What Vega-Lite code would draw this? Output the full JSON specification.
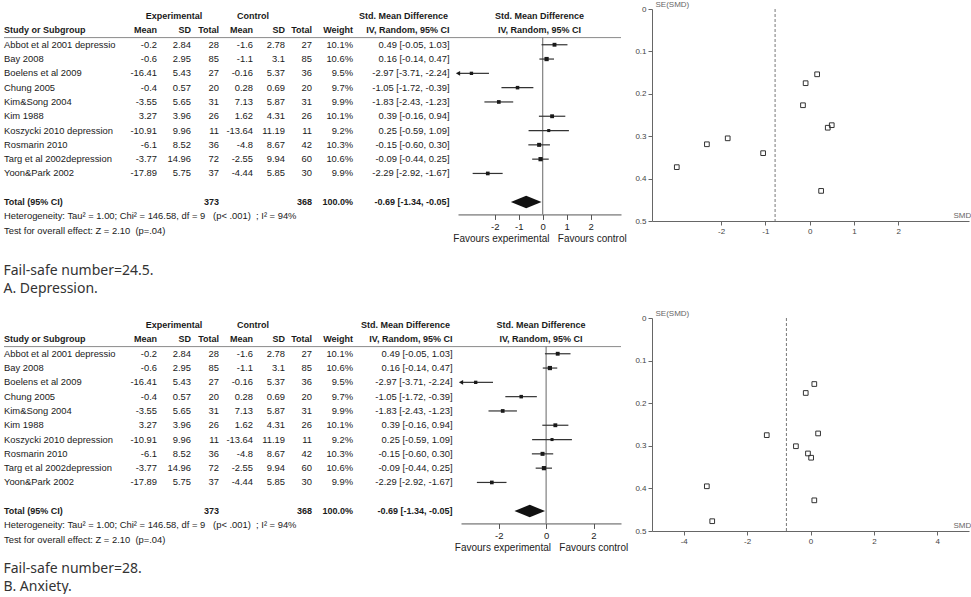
{
"$schema": "https://vega.github.io/schema/vega-lite/v6.json",
"background": "white",
"padding": {"left": 3, "top": 0, "right": 0, "bottom": 0},
"config": {"view": {"stroke": null}, "font": "Liberation Sans", "locale": {"number": {"decimal": ".", "thousands": ",", "grouping": [3], "currency": ["$", ""], "minus": "-"}}},
"datasets": {
"tab": [
{"study":"Abbot et al 2001 depressio","kind":"s","me":-0.2,"sde":2.84,"ne":28,"mc":-1.6,"sdc":2.78,"nc":27,"w":10.1,"smd":0.49,"lo":-0.05,"hi":1.03},
{"study":"Bay 2008","kind":"s","me":-0.6,"sde":2.95,"ne":85,"mc":-1.1,"sdc":3.1,"nc":85,"w":10.6,"smd":0.16,"lo":-0.14,"hi":0.47},
{"study":"Boelens et al 2009","kind":"s","me":-16.41,"sde":5.43,"ne":27,"mc":-0.16,"sdc":5.37,"nc":36,"w":9.5,"smd":-2.97,"lo":-3.71,"hi":-2.24},
{"study":"Chung 2005","kind":"s","me":-0.4,"sde":0.57,"ne":20,"mc":0.28,"sdc":0.69,"nc":20,"w":9.7,"smd":-1.05,"lo":-1.72,"hi":-0.39},
{"study":"Kim&Song 2004","kind":"s","me":-3.55,"sde":5.65,"ne":31,"mc":7.13,"sdc":5.87,"nc":31,"w":9.9,"smd":-1.83,"lo":-2.43,"hi":-1.23},
{"study":"Kim 1988","kind":"s","me":3.27,"sde":3.96,"ne":26,"mc":1.62,"sdc":4.31,"nc":26,"w":10.1,"smd":0.39,"lo":-0.16,"hi":0.94},
{"study":"Koszycki 2010 depression","kind":"s","me":-10.91,"sde":9.96,"ne":11,"mc":-13.64,"sdc":11.19,"nc":11,"w":9.2,"smd":0.25,"lo":-0.59,"hi":1.09},
{"study":"Rosmarin 2010","kind":"s","me":-6.1,"sde":8.52,"ne":36,"mc":-4.8,"sdc":8.67,"nc":42,"w":10.3,"smd":-0.15,"lo":-0.6,"hi":0.3},
{"study":"Targ et al 2002depression","kind":"s","me":-3.77,"sde":14.96,"ne":72,"mc":-2.55,"sdc":9.94,"nc":60,"w":10.6,"smd":-0.09,"lo":-0.44,"hi":0.25},
{"study":"Yoon&Park 2002","kind":"s","me":-17.89,"sde":5.75,"ne":37,"mc":-4.44,"sdc":5.85,"nc":30,"w":9.9,"smd":-2.29,"lo":-2.92,"hi":-1.67},
{"study":"Total (95% CI)","kind":"t","ne":373,"nc":368,"w":100.0,"smd":-0.69,"lo":-1.34,"hi":-0.05}
],
"funA": [
{"smd":0.17,"se":0.154},{"smd":-0.09,"se":0.175},{"smd":-0.15,"se":0.227},{"smd":0.41,"se":0.28},{"smd":0.5,"se":0.274},
{"smd":-1.85,"se":0.305},{"smd":-2.32,"se":0.319},{"smd":-1.05,"se":0.34},{"smd":-3.0,"se":0.373},{"smd":0.26,"se":0.429}
],
"funB": [
{"smd":0.12,"se":0.155},{"smd":-0.15,"se":0.176},{"smd":0.24,"se":0.271},{"smd":-1.38,"se":0.275},{"smd":-0.46,"se":0.301},
{"smd":-0.08,"se":0.318},{"smd":0.02,"se":0.328},{"smd":-3.27,"se":0.395},{"smd":0.12,"se":0.428},{"smd":-3.1,"se":0.477}
]
},
"spacing": 13,
"vconcat": [
{
"bounds": "flush", "spacing": 0,
"title": {"text": ["Fail-safe number=24.5.", "A. Depression."], "orient": "bottom", "anchor": "start", "baseline": "top", "offset": 20, "fontSize": 14, "fontWeight": "normal", "font": "Noto Sans", "color": "#333", "lineHeight": 18},
"hconcat": [
{"width": 123, "height": {"step": 14.3}, "data": {"name": "tab"},
 "encoding": {"y": {"field": "study", "type": "nominal", "scale": {"type": "band", "domain": ["grp","hdr","Abbot et al 2001 depressio","Bay 2008","Boelens et al 2009","Chung 2005","Kim&Song 2004","Kim 1988","Koszycki 2010 depression","Rosmarin 2010","Targ et al 2002depression","Yoon&Park 2002","gap","Total (95% CI)","het","test"], "paddingInner": 0, "paddingOuter": 0, "round": false}, "axis": null}},
 "layer": [
  {"transform": [{"filter": "datum.kind == 's'"}], "mark": {"type": "text", "align": "left", "fontSize": 9.4, "color": "#1a1a1a"}, "encoding": {"x": {"value": 0}, "text": {"field": "study", "type": "nominal"}}},
  {"transform": [{"filter": "datum.kind == 't'"}], "mark": {"type": "text", "align": "left", "fontSize": 9, "fontWeight": "bold", "color": "#1a1a1a"}, "encoding": {"x": {"value": 0}, "text": {"field": "study", "type": "nominal"}}},
  {"data": {"values": [{}]}, "mark": {"type": "text", "align": "left", "fontSize": 9, "fontWeight": "bold", "color": "#1a1a1a"}, "encoding": {"x": {"value": 0}, "y": {"datum": "hdr"}, "text": {"value": "Study or Subgroup"}}},
  {"data": {"values": [{}]}, "mark": {"type": "text", "align": "left", "fontSize": 9.4, "color": "#1a1a1a"}, "encoding": {"x": {"value": 0}, "y": {"datum": "het"}, "text": {"value": "Heterogeneity: Tau² = 1.00; Chi² = 146.58, df = 9\u00a0\u00a0 (p< .001)\u00a0 ; I² = 94%"}}},
  {"data": {"values": [{}]}, "mark": {"type": "text", "align": "left", "fontSize": 9.4, "color": "#1a1a1a"}, "encoding": {"x": {"value": 0}, "y": {"datum": "test"}, "text": {"value": "Test for overall effect: Z = 2.10\u00a0 (p=.04)"}}},
  {"data": {"values": [{}]}, "mark": {"type": "rule", "color": "#8a8a8a"}, "encoding": {"y": {"datum": "Abbot et al 2001 depressio", "bandPosition": 0}}}
 ]},
{"width": 30, "height": {"step": 14.3}, "data": {"name": "tab"},
 "encoding": {"y": {"field": "study", "type": "nominal", "scale": {"type": "band", "domain": ["grp","hdr","Abbot et al 2001 depressio","Bay 2008","Boelens et al 2009","Chung 2005","Kim&Song 2004","Kim 1988","Koszycki 2010 depression","Rosmarin 2010","Targ et al 2002depression","Yoon&Park 2002","gap","Total (95% CI)","het","test"], "paddingInner": 0, "paddingOuter": 0, "round": false}, "axis": null}},
 "layer": [
  {"transform": [{"filter": "datum.kind == 's'"}], "mark": {"type": "text", "align": "right", "fontSize": 9.4, "color": "#1a1a1a"}, "encoding": {"x": {"value": "width"}, "text": {"field": "me", "type": "nominal"}}},
  {"data": {"values": [{}]}, "mark": {"type": "text", "align": "right", "fontSize": 9, "fontWeight": "bold", "color": "#1a1a1a"}, "encoding": {"x": {"value": "width"}, "y": {"datum": "hdr"}, "text": {"value": "Mean"}}},
  {"data": {"values": [{}]}, "mark": {"type": "rule", "color": "#8a8a8a"}, "encoding": {"y": {"datum": "Abbot et al 2001 depressio", "bandPosition": 0}}}
 ]},
{"width": 34, "height": {"step": 14.3}, "data": {"name": "tab"},
 "encoding": {"y": {"field": "study", "type": "nominal", "scale": {"type": "band", "domain": ["grp","hdr","Abbot et al 2001 depressio","Bay 2008","Boelens et al 2009","Chung 2005","Kim&Song 2004","Kim 1988","Koszycki 2010 depression","Rosmarin 2010","Targ et al 2002depression","Yoon&Park 2002","gap","Total (95% CI)","het","test"], "paddingInner": 0, "paddingOuter": 0, "round": false}, "axis": null}},
 "layer": [
  {"transform": [{"filter": "datum.kind == 's'"}], "mark": {"type": "text", "align": "right", "fontSize": 9.4, "color": "#1a1a1a"}, "encoding": {"x": {"value": "width"}, "text": {"field": "sde", "type": "nominal"}}},
  {"data": {"values": [{}]}, "mark": {"type": "text", "align": "right", "fontSize": 9, "fontWeight": "bold", "color": "#1a1a1a"}, "encoding": {"x": {"value": "width"}, "y": {"datum": "hdr"}, "text": {"value": "SD"}}},
  {"data": {"values": [{}]}, "mark": {"type": "text", "align": "center", "fontSize": 9, "fontWeight": "bold", "color": "#1a1a1a"}, "encoding": {"y": {"datum": "grp"}, "text": {"value": "Experimental"}}},
  {"data": {"values": [{}]}, "mark": {"type": "rule", "color": "#8a8a8a"}, "encoding": {"y": {"datum": "Abbot et al 2001 depressio", "bandPosition": 0}}}
 ]},
{"width": 28, "height": {"step": 14.3}, "data": {"name": "tab"},
 "encoding": {"y": {"field": "study", "type": "nominal", "scale": {"type": "band", "domain": ["grp","hdr","Abbot et al 2001 depressio","Bay 2008","Boelens et al 2009","Chung 2005","Kim&Song 2004","Kim 1988","Koszycki 2010 depression","Rosmarin 2010","Targ et al 2002depression","Yoon&Park 2002","gap","Total (95% CI)","het","test"], "paddingInner": 0, "paddingOuter": 0, "round": false}, "axis": null}},
 "layer": [
  {"transform": [{"filter": "datum.kind == 's'"}], "mark": {"type": "text", "align": "right", "fontSize": 9.4, "color": "#1a1a1a"}, "encoding": {"x": {"value": "width"}, "text": {"field": "ne", "type": "nominal"}}},
  {"transform": [{"filter": "datum.kind == 't'"}], "mark": {"type": "text", "align": "right", "fontSize": 9, "fontWeight": "bold", "color": "#1a1a1a"}, "encoding": {"x": {"value": "width"}, "text": {"field": "ne", "type": "nominal"}}},
  {"data": {"values": [{}]}, "mark": {"type": "text", "align": "right", "fontSize": 9, "fontWeight": "bold", "color": "#1a1a1a"}, "encoding": {"x": {"value": "width"}, "y": {"datum": "hdr"}, "text": {"value": "Total"}}},
  {"data": {"values": [{}]}, "mark": {"type": "rule", "color": "#8a8a8a"}, "encoding": {"y": {"datum": "Abbot et al 2001 depressio", "bandPosition": 0}}}
 ]},
{"width": 34, "height": {"step": 14.3}, "data": {"name": "tab"},
 "encoding": {"y": {"field": "study", "type": "nominal", "scale": {"type": "band", "domain": ["grp","hdr","Abbot et al 2001 depressio","Bay 2008","Boelens et al 2009","Chung 2005","Kim&Song 2004","Kim 1988","Koszycki 2010 depression","Rosmarin 2010","Targ et al 2002depression","Yoon&Park 2002","gap","Total (95% CI)","het","test"], "paddingInner": 0, "paddingOuter": 0, "round": false}, "axis": null}},
 "layer": [
  {"transform": [{"filter": "datum.kind == 's'"}], "mark": {"type": "text", "align": "right", "fontSize": 9.4, "color": "#1a1a1a"}, "encoding": {"x": {"value": "width"}, "text": {"field": "mc", "type": "nominal"}}},
  {"data": {"values": [{}]}, "mark": {"type": "text", "align": "right", "fontSize": 9, "fontWeight": "bold", "color": "#1a1a1a"}, "encoding": {"x": {"value": "width"}, "y": {"datum": "hdr"}, "text": {"value": "Mean"}}},
  {"data": {"values": [{}]}, "mark": {"type": "text", "align": "center", "fontSize": 9, "fontWeight": "bold", "color": "#1a1a1a"}, "encoding": {"x": {"value": "width"}, "y": {"datum": "grp"}, "text": {"value": "Control"}}},
  {"data": {"values": [{}]}, "mark": {"type": "rule", "color": "#8a8a8a"}, "encoding": {"y": {"datum": "Abbot et al 2001 depressio", "bandPosition": 0}}}
 ]},
{"width": 32, "height": {"step": 14.3}, "data": {"name": "tab"},
 "encoding": {"y": {"field": "study", "type": "nominal", "scale": {"type": "band", "domain": ["grp","hdr","Abbot et al 2001 depressio","Bay 2008","Boelens et al 2009","Chung 2005","Kim&Song 2004","Kim 1988","Koszycki 2010 depression","Rosmarin 2010","Targ et al 2002depression","Yoon&Park 2002","gap","Total (95% CI)","het","test"], "paddingInner": 0, "paddingOuter": 0, "round": false}, "axis": null}},
 "layer": [
  {"transform": [{"filter": "datum.kind == 's'"}], "mark": {"type": "text", "align": "right", "fontSize": 9.4, "color": "#1a1a1a"}, "encoding": {"x": {"value": "width"}, "text": {"field": "sdc", "type": "nominal"}}},
  {"data": {"values": [{}]}, "mark": {"type": "text", "align": "right", "fontSize": 9, "fontWeight": "bold", "color": "#1a1a1a"}, "encoding": {"x": {"value": "width"}, "y": {"datum": "hdr"}, "text": {"value": "SD"}}},
  {"data": {"values": [{}]}, "mark": {"type": "rule", "color": "#8a8a8a"}, "encoding": {"y": {"datum": "Abbot et al 2001 depressio", "bandPosition": 0}}}
 ]},
{"width": 27, "height": {"step": 14.3}, "data": {"name": "tab"},
 "encoding": {"y": {"field": "study", "type": "nominal", "scale": {"type": "band", "domain": ["grp","hdr","Abbot et al 2001 depressio","Bay 2008","Boelens et al 2009","Chung 2005","Kim&Song 2004","Kim 1988","Koszycki 2010 depression","Rosmarin 2010","Targ et al 2002depression","Yoon&Park 2002","gap","Total (95% CI)","het","test"], "paddingInner": 0, "paddingOuter": 0, "round": false}, "axis": null}},
 "layer": [
  {"transform": [{"filter": "datum.kind == 's'"}], "mark": {"type": "text", "align": "right", "fontSize": 9.4, "color": "#1a1a1a"}, "encoding": {"x": {"value": "width"}, "text": {"field": "nc", "type": "nominal"}}},
  {"transform": [{"filter": "datum.kind == 't'"}], "mark": {"type": "text", "align": "right", "fontSize": 9, "fontWeight": "bold", "color": "#1a1a1a"}, "encoding": {"x": {"value": "width"}, "text": {"field": "nc", "type": "nominal"}}},
  {"data": {"values": [{}]}, "mark": {"type": "text", "align": "right", "fontSize": 9, "fontWeight": "bold", "color": "#1a1a1a"}, "encoding": {"x": {"value": "width"}, "y": {"datum": "hdr"}, "text": {"value": "Total"}}},
  {"data": {"values": [{}]}, "mark": {"type": "rule", "color": "#8a8a8a"}, "encoding": {"y": {"datum": "Abbot et al 2001 depressio", "bandPosition": 0}}}
 ]},
{"width": 41, "height": {"step": 14.3}, "data": {"name": "tab"},
 "transform": [{"calculate": "format(datum.w, '.1f') + '%'", "as": "wl"}],
 "encoding": {"y": {"field": "study", "type": "nominal", "scale": {"type": "band", "domain": ["grp","hdr","Abbot et al 2001 depressio","Bay 2008","Boelens et al 2009","Chung 2005","Kim&Song 2004","Kim 1988","Koszycki 2010 depression","Rosmarin 2010","Targ et al 2002depression","Yoon&Park 2002","gap","Total (95% CI)","het","test"], "paddingInner": 0, "paddingOuter": 0, "round": false}, "axis": null}},
 "layer": [
  {"transform": [{"filter": "datum.kind == 's'"}], "mark": {"type": "text", "align": "right", "fontSize": 9.4, "color": "#1a1a1a"}, "encoding": {"x": {"value": "width"}, "text": {"field": "wl", "type": "nominal"}}},
  {"transform": [{"filter": "datum.kind == 't'"}], "mark": {"type": "text", "align": "right", "fontSize": 9, "fontWeight": "bold", "color": "#1a1a1a"}, "encoding": {"x": {"value": "width"}, "text": {"field": "wl", "type": "nominal"}}},
  {"data": {"values": [{}]}, "mark": {"type": "text", "align": "right", "fontSize": 9, "fontWeight": "bold", "color": "#1a1a1a"}, "encoding": {"x": {"value": "width"}, "y": {"datum": "hdr"}, "text": {"value": "Weight"}}},
  {"data": {"values": [{}]}, "mark": {"type": "rule", "color": "#8a8a8a"}, "encoding": {"y": {"datum": "Abbot et al 2001 depressio", "bandPosition": 0}}}
 ]},
{"width": 105, "height": {"step": 14.3}, "data": {"name": "tab"},
 "transform": [{"calculate": "format(datum.smd, '.2f') + ' [' + format(datum.lo, '.2f') + ', ' + format(datum.hi, '.2f') + ']'", "as": "ci"}],
 "encoding": {"y": {"field": "study", "type": "nominal", "scale": {"type": "band", "domain": ["grp","hdr","Abbot et al 2001 depressio","Bay 2008","Boelens et al 2009","Chung 2005","Kim&Song 2004","Kim 1988","Koszycki 2010 depression","Rosmarin 2010","Targ et al 2002depression","Yoon&Park 2002","gap","Total (95% CI)","het","test"], "paddingInner": 0, "paddingOuter": 0, "round": false}, "axis": null}},
 "layer": [
  {"transform": [{"filter": "datum.kind == 's'"}], "mark": {"type": "text", "align": "right", "dx": -8.5, "fontSize": 9.4, "color": "#1a1a1a"}, "encoding": {"x": {"value": "width"}, "text": {"field": "ci", "type": "nominal"}}},
  {"transform": [{"filter": "datum.kind == 't'"}], "mark": {"type": "text", "align": "right", "dx": -8.5, "fontSize": 9, "fontWeight": "bold", "color": "#1a1a1a"}, "encoding": {"x": {"value": "width"}, "text": {"field": "ci", "type": "nominal"}}},
  {"data": {"values": [{}]}, "mark": {"type": "text", "align": "right", "dx": -10, "fontSize": 9, "fontWeight": "bold", "color": "#1a1a1a"}, "encoding": {"x": {"value": "width"}, "y": {"datum": "grp"}, "text": {"value": "Std. Mean Difference"}}},
  {"data": {"values": [{}]}, "mark": {"type": "text", "align": "right", "dx": -8.5, "fontSize": 9, "fontWeight": "bold", "color": "#1a1a1a"}, "encoding": {"x": {"value": "width"}, "y": {"datum": "hdr"}, "text": {"value": "IV, Random, 95% CI"}}},
  {"data": {"values": [{}]}, "mark": {"type": "rule", "color": "#8a8a8a"}, "encoding": {"y": {"datum": "Abbot et al 2001 depressio", "bandPosition": 0}}}
 ]},
{"width": 163, "height": {"step": 14.3}, "data": {"name": "tab"},
 "encoding": {"y": {"field": "study", "type": "nominal", "scale": {"type": "band", "domain": ["grp","hdr","Abbot et al 2001 depressio","Bay 2008","Boelens et al 2009","Chung 2005","Kim&Song 2004","Kim 1988","Koszycki 2010 depression","Rosmarin 2010","Targ et al 2002depression","Yoon&Park 2002","gap","Total (95% CI)"], "paddingInner": 0, "paddingOuter": 0.183, "align": 0, "round": false}, "axis": null}},
 "layer": [
  {"data": {"values": [{}]}, "mark": {"type": "text", "align": "center", "fontSize": 9, "fontWeight": "bold", "color": "#1a1a1a"}, "encoding": {"y": {"datum": "grp"}, "text": {"value": "Std. Mean Difference"}}},
  {"data": {"values": [{}]}, "mark": {"type": "text", "align": "center", "fontSize": 9, "fontWeight": "bold", "color": "#1a1a1a"}, "encoding": {"y": {"datum": "hdr"}, "text": {"value": "IV, Random, 95% CI"}}},
  {"data": {"values": [{}]}, "mark": {"type": "rule", "color": "#8a8a8a"}, "encoding": {"y": {"datum": "Abbot et al 2001 depressio", "bandPosition": 0}}},
  {"data": {"values": [{}]}, "mark": {"type": "rule", "color": "#666"}, "encoding": {"x": {"datum": 0, "type": "quantitative", "scale": {"domain": [-3.53, 3.26], "nice": false, "zero": false, "clamp": true}, "axis": {"values": [-2, -1, 0, 1, 2], "grid": false, "labelFlush": false, "tickSize": 5, "domainColor": "#555", "tickColor": "#555", "labelColor": "#222", "labelFontSize": 9.5, "labelPadding": 2, "title": "Favours experimental\u00a0\u00a0 Favours control", "titleFontSize": 10, "titleFontWeight": "normal", "titleColor": "#222", "titlePadding": 3}}, "y": {"datum": "Abbot et al 2001 depressio", "bandPosition": 0}, "y2": {"value": "height"}}},
  {"transform": [{"filter": "datum.kind == 's'"}], "mark": {"type": "rule", "color": "#333", "strokeWidth": 1.2}, "encoding": {"x": {"field": "lo", "type": "quantitative", "scale": {"domain": [-3.53, 3.26], "nice": false, "zero": false, "clamp": true}}, "x2": {"field": "hi"}}},
  {"transform": [{"filter": "datum.kind == 's'"}], "mark": {"type": "point", "shape": "square", "filled": true, "color": "#1a1a1a", "opacity": 1}, "encoding": {"x": {"field": "smd", "type": "quantitative", "scale": {"domain": [-3.53, 3.26], "nice": false, "zero": false, "clamp": true}}, "size": {"field": "w", "type": "quantitative", "scale": {"domain": [9, 10.6], "range": [8, 18]}, "legend": null}}},
  {"transform": [{"filter": "datum.kind == 's' && datum.lo < -3.53"}], "mark": {"type": "point", "shape": "triangle-left", "filled": true, "size": 24, "color": "#1a1a1a", "opacity": 1}, "encoding": {"x": {"field": "lo", "type": "quantitative", "scale": {"domain": [-3.53, 3.26], "nice": false, "zero": false, "clamp": true}}}},
  {"transform": [{"filter": "datum.kind == 't'"}], "mark": {"type": "point", "shape": "M-1,0L0,-0.41L1,0L0,0.41Z", "filled": true, "size": 940, "color": "#111", "opacity": 1}, "encoding": {"x": {"field": "smd", "type": "quantitative", "scale": {"domain": [-3.53, 3.26], "nice": false, "zero": false, "clamp": true}}}}
 ]},
{"width": 31, "height": 212, "data": {"values": []}, "mark": "point"},
{"width": 317, "height": 212, "data": {"name": "funA"},
 "layer": [
  {"data": {"values": [{}]}, "mark": {"type": "rule", "strokeDash": [3, 2], "color": "#777"}, "encoding": {"x": {"datum": -0.78, "type": "quantitative", "scale": {"domain": [-3.56, 3.6], "nice": false, "zero": false}}}},
  {"mark": {"type": "point", "shape": "square", "filled": false, "stroke": "#333", "strokeWidth": 1, "size": 22, "opacity": 1},
   "encoding": {
    "x": {"field": "smd", "type": "quantitative", "scale": {"domain": [-3.56, 3.6], "nice": false, "zero": false}, "axis": {"values": [-2, -1, 0, 1, 2], "grid": false, "labelFlush": false, "tickSize": 4, "domainColor": "#666", "tickColor": "#666", "labelColor": "#444", "labelFontSize": 8, "labelPadding": 2, "title": "SMD", "titleX": 301, "titleY": -2, "titleAlign": "left", "titleBaseline": "bottom", "titleFontSize": 8, "titleFontWeight": "normal", "titleColor": "#666"}},
    "y": {"field": "se", "type": "quantitative", "scale": {"domain": [0, 0.5], "reverse": true, "nice": false, "zero": false}, "axis": {"values": [0, 0.1, 0.2, 0.3, 0.4, 0.5], "format": "~g", "grid": false, "labelFlush": false, "tickSize": 4, "domainColor": "#666", "tickColor": "#666", "labelColor": "#444", "labelFontSize": 8, "labelPadding": 2, "title": "SE(SMD)", "titleAngle": 0, "titleX": 3, "titleY": -5, "titleAlign": "left", "titleBaseline": "middle", "titleFontSize": 8, "titleFontWeight": "normal", "titleColor": "#666"}}
   }}
 ]}
]
},
{
"bounds": "flush", "spacing": 0,
"title": {"text": ["Fail-safe number=28.", "B. Anxiety."], "orient": "bottom", "anchor": "start", "baseline": "top", "offset": 9, "fontSize": 14, "fontWeight": "normal", "font": "Noto Sans", "color": "#333", "lineHeight": 18},
"hconcat": [
{"width": 123, "height": {"step": 14.3}, "data": {"name": "tab"},
 "encoding": {"y": {"field": "study", "type": "nominal", "scale": {"type": "band", "domain": ["grp","hdr","Abbot et al 2001 depressio","Bay 2008","Boelens et al 2009","Chung 2005","Kim&Song 2004","Kim 1988","Koszycki 2010 depression","Rosmarin 2010","Targ et al 2002depression","Yoon&Park 2002","gap","Total (95% CI)","het","test"], "paddingInner": 0, "paddingOuter": 0, "round": false}, "axis": null}},
 "layer": [
  {"transform": [{"filter": "datum.kind == 's'"}], "mark": {"type": "text", "align": "left", "fontSize": 9.4, "color": "#1a1a1a"}, "encoding": {"x": {"value": 0}, "text": {"field": "study", "type": "nominal"}}},
  {"transform": [{"filter": "datum.kind == 't'"}], "mark": {"type": "text", "align": "left", "fontSize": 9, "fontWeight": "bold", "color": "#1a1a1a"}, "encoding": {"x": {"value": 0}, "text": {"field": "study", "type": "nominal"}}},
  {"data": {"values": [{}]}, "mark": {"type": "text", "align": "left", "fontSize": 9, "fontWeight": "bold", "color": "#1a1a1a"}, "encoding": {"x": {"value": 0}, "y": {"datum": "hdr"}, "text": {"value": "Study or Subgroup"}}},
  {"data": {"values": [{}]}, "mark": {"type": "text", "align": "left", "fontSize": 9.4, "color": "#1a1a1a"}, "encoding": {"x": {"value": 0}, "y": {"datum": "het"}, "text": {"value": "Heterogeneity: Tau² = 1.00; Chi² = 146.58, df = 9\u00a0\u00a0 (p< .001)\u00a0 ; I² = 94%"}}},
  {"data": {"values": [{}]}, "mark": {"type": "text", "align": "left", "fontSize": 9.4, "color": "#1a1a1a"}, "encoding": {"x": {"value": 0}, "y": {"datum": "test"}, "text": {"value": "Test for overall effect: Z = 2.10\u00a0 (p=.04)"}}},
  {"data": {"values": [{}]}, "mark": {"type": "rule", "color": "#8a8a8a"}, "encoding": {"y": {"datum": "Abbot et al 2001 depressio", "bandPosition": 0}}}
 ]},
{"width": 30, "height": {"step": 14.3}, "data": {"name": "tab"},
 "encoding": {"y": {"field": "study", "type": "nominal", "scale": {"type": "band", "domain": ["grp","hdr","Abbot et al 2001 depressio","Bay 2008","Boelens et al 2009","Chung 2005","Kim&Song 2004","Kim 1988","Koszycki 2010 depression","Rosmarin 2010","Targ et al 2002depression","Yoon&Park 2002","gap","Total (95% CI)","het","test"], "paddingInner": 0, "paddingOuter": 0, "round": false}, "axis": null}},
 "layer": [
  {"transform": [{"filter": "datum.kind == 's'"}], "mark": {"type": "text", "align": "right", "fontSize": 9.4, "color": "#1a1a1a"}, "encoding": {"x": {"value": "width"}, "text": {"field": "me", "type": "nominal"}}},
  {"data": {"values": [{}]}, "mark": {"type": "text", "align": "right", "fontSize": 9, "fontWeight": "bold", "color": "#1a1a1a"}, "encoding": {"x": {"value": "width"}, "y": {"datum": "hdr"}, "text": {"value": "Mean"}}},
  {"data": {"values": [{}]}, "mark": {"type": "rule", "color": "#8a8a8a"}, "encoding": {"y": {"datum": "Abbot et al 2001 depressio", "bandPosition": 0}}}
 ]},
{"width": 34, "height": {"step": 14.3}, "data": {"name": "tab"},
 "encoding": {"y": {"field": "study", "type": "nominal", "scale": {"type": "band", "domain": ["grp","hdr","Abbot et al 2001 depressio","Bay 2008","Boelens et al 2009","Chung 2005","Kim&Song 2004","Kim 1988","Koszycki 2010 depression","Rosmarin 2010","Targ et al 2002depression","Yoon&Park 2002","gap","Total (95% CI)","het","test"], "paddingInner": 0, "paddingOuter": 0, "round": false}, "axis": null}},
 "layer": [
  {"transform": [{"filter": "datum.kind == 's'"}], "mark": {"type": "text", "align": "right", "fontSize": 9.4, "color": "#1a1a1a"}, "encoding": {"x": {"value": "width"}, "text": {"field": "sde", "type": "nominal"}}},
  {"data": {"values": [{}]}, "mark": {"type": "text", "align": "right", "fontSize": 9, "fontWeight": "bold", "color": "#1a1a1a"}, "encoding": {"x": {"value": "width"}, "y": {"datum": "hdr"}, "text": {"value": "SD"}}},
  {"data": {"values": [{}]}, "mark": {"type": "text", "align": "center", "fontSize": 9, "fontWeight": "bold", "color": "#1a1a1a"}, "encoding": {"y": {"datum": "grp"}, "text": {"value": "Experimental"}}},
  {"data": {"values": [{}]}, "mark": {"type": "rule", "color": "#8a8a8a"}, "encoding": {"y": {"datum": "Abbot et al 2001 depressio", "bandPosition": 0}}}
 ]},
{"width": 28, "height": {"step": 14.3}, "data": {"name": "tab"},
 "encoding": {"y": {"field": "study", "type": "nominal", "scale": {"type": "band", "domain": ["grp","hdr","Abbot et al 2001 depressio","Bay 2008","Boelens et al 2009","Chung 2005","Kim&Song 2004","Kim 1988","Koszycki 2010 depression","Rosmarin 2010","Targ et al 2002depression","Yoon&Park 2002","gap","Total (95% CI)","het","test"], "paddingInner": 0, "paddingOuter": 0, "round": false}, "axis": null}},
 "layer": [
  {"transform": [{"filter": "datum.kind == 's'"}], "mark": {"type": "text", "align": "right", "fontSize": 9.4, "color": "#1a1a1a"}, "encoding": {"x": {"value": "width"}, "text": {"field": "ne", "type": "nominal"}}},
  {"transform": [{"filter": "datum.kind == 't'"}], "mark": {"type": "text", "align": "right", "fontSize": 9, "fontWeight": "bold", "color": "#1a1a1a"}, "encoding": {"x": {"value": "width"}, "text": {"field": "ne", "type": "nominal"}}},
  {"data": {"values": [{}]}, "mark": {"type": "text", "align": "right", "fontSize": 9, "fontWeight": "bold", "color": "#1a1a1a"}, "encoding": {"x": {"value": "width"}, "y": {"datum": "hdr"}, "text": {"value": "Total"}}},
  {"data": {"values": [{}]}, "mark": {"type": "rule", "color": "#8a8a8a"}, "encoding": {"y": {"datum": "Abbot et al 2001 depressio", "bandPosition": 0}}}
 ]},
{"width": 34, "height": {"step": 14.3}, "data": {"name": "tab"},
 "encoding": {"y": {"field": "study", "type": "nominal", "scale": {"type": "band", "domain": ["grp","hdr","Abbot et al 2001 depressio","Bay 2008","Boelens et al 2009","Chung 2005","Kim&Song 2004","Kim 1988","Koszycki 2010 depression","Rosmarin 2010","Targ et al 2002depression","Yoon&Park 2002","gap","Total (95% CI)","het","test"], "paddingInner": 0, "paddingOuter": 0, "round": false}, "axis": null}},
 "layer": [
  {"transform": [{"filter": "datum.kind == 's'"}], "mark": {"type": "text", "align": "right", "fontSize": 9.4, "color": "#1a1a1a"}, "encoding": {"x": {"value": "width"}, "text": {"field": "mc", "type": "nominal"}}},
  {"data": {"values": [{}]}, "mark": {"type": "text", "align": "right", "fontSize": 9, "fontWeight": "bold", "color": "#1a1a1a"}, "encoding": {"x": {"value": "width"}, "y": {"datum": "hdr"}, "text": {"value": "Mean"}}},
  {"data": {"values": [{}]}, "mark": {"type": "text", "align": "center", "fontSize": 9, "fontWeight": "bold", "color": "#1a1a1a"}, "encoding": {"x": {"value": "width"}, "y": {"datum": "grp"}, "text": {"value": "Control"}}},
  {"data": {"values": [{}]}, "mark": {"type": "rule", "color": "#8a8a8a"}, "encoding": {"y": {"datum": "Abbot et al 2001 depressio", "bandPosition": 0}}}
 ]},
{"width": 32, "height": {"step": 14.3}, "data": {"name": "tab"},
 "encoding": {"y": {"field": "study", "type": "nominal", "scale": {"type": "band", "domain": ["grp","hdr","Abbot et al 2001 depressio","Bay 2008","Boelens et al 2009","Chung 2005","Kim&Song 2004","Kim 1988","Koszycki 2010 depression","Rosmarin 2010","Targ et al 2002depression","Yoon&Park 2002","gap","Total (95% CI)","het","test"], "paddingInner": 0, "paddingOuter": 0, "round": false}, "axis": null}},
 "layer": [
  {"transform": [{"filter": "datum.kind == 's'"}], "mark": {"type": "text", "align": "right", "fontSize": 9.4, "color": "#1a1a1a"}, "encoding": {"x": {"value": "width"}, "text": {"field": "sdc", "type": "nominal"}}},
  {"data": {"values": [{}]}, "mark": {"type": "text", "align": "right", "fontSize": 9, "fontWeight": "bold", "color": "#1a1a1a"}, "encoding": {"x": {"value": "width"}, "y": {"datum": "hdr"}, "text": {"value": "SD"}}},
  {"data": {"values": [{}]}, "mark": {"type": "rule", "color": "#8a8a8a"}, "encoding": {"y": {"datum": "Abbot et al 2001 depressio", "bandPosition": 0}}}
 ]},
{"width": 27, "height": {"step": 14.3}, "data": {"name": "tab"},
 "encoding": {"y": {"field": "study", "type": "nominal", "scale": {"type": "band", "domain": ["grp","hdr","Abbot et al 2001 depressio","Bay 2008","Boelens et al 2009","Chung 2005","Kim&Song 2004","Kim 1988","Koszycki 2010 depression","Rosmarin 2010","Targ et al 2002depression","Yoon&Park 2002","gap","Total (95% CI)","het","test"], "paddingInner": 0, "paddingOuter": 0, "round": false}, "axis": null}},
 "layer": [
  {"transform": [{"filter": "datum.kind == 's'"}], "mark": {"type": "text", "align": "right", "fontSize": 9.4, "color": "#1a1a1a"}, "encoding": {"x": {"value": "width"}, "text": {"field": "nc", "type": "nominal"}}},
  {"transform": [{"filter": "datum.kind == 't'"}], "mark": {"type": "text", "align": "right", "fontSize": 9, "fontWeight": "bold", "color": "#1a1a1a"}, "encoding": {"x": {"value": "width"}, "text": {"field": "nc", "type": "nominal"}}},
  {"data": {"values": [{}]}, "mark": {"type": "text", "align": "right", "fontSize": 9, "fontWeight": "bold", "color": "#1a1a1a"}, "encoding": {"x": {"value": "width"}, "y": {"datum": "hdr"}, "text": {"value": "Total"}}},
  {"data": {"values": [{}]}, "mark": {"type": "rule", "color": "#8a8a8a"}, "encoding": {"y": {"datum": "Abbot et al 2001 depressio", "bandPosition": 0}}}
 ]},
{"width": 41, "height": {"step": 14.3}, "data": {"name": "tab"},
 "transform": [{"calculate": "format(datum.w, '.1f') + '%'", "as": "wl"}],
 "encoding": {"y": {"field": "study", "type": "nominal", "scale": {"type": "band", "domain": ["grp","hdr","Abbot et al 2001 depressio","Bay 2008","Boelens et al 2009","Chung 2005","Kim&Song 2004","Kim 1988","Koszycki 2010 depression","Rosmarin 2010","Targ et al 2002depression","Yoon&Park 2002","gap","Total (95% CI)","het","test"], "paddingInner": 0, "paddingOuter": 0, "round": false}, "axis": null}},
 "layer": [
  {"transform": [{"filter": "datum.kind == 's'"}], "mark": {"type": "text", "align": "right", "fontSize": 9.4, "color": "#1a1a1a"}, "encoding": {"x": {"value": "width"}, "text": {"field": "wl", "type": "nominal"}}},
  {"transform": [{"filter": "datum.kind == 't'"}], "mark": {"type": "text", "align": "right", "fontSize": 9, "fontWeight": "bold", "color": "#1a1a1a"}, "encoding": {"x": {"value": "width"}, "text": {"field": "wl", "type": "nominal"}}},
  {"data": {"values": [{}]}, "mark": {"type": "text", "align": "right", "fontSize": 9, "fontWeight": "bold", "color": "#1a1a1a"}, "encoding": {"x": {"value": "width"}, "y": {"datum": "hdr"}, "text": {"value": "Weight"}}},
  {"data": {"values": [{}]}, "mark": {"type": "rule", "color": "#8a8a8a"}, "encoding": {"y": {"datum": "Abbot et al 2001 depressio", "bandPosition": 0}}}
 ]},
{"width": 108, "height": {"step": 14.3}, "data": {"name": "tab"},
 "transform": [{"calculate": "format(datum.smd, '.2f') + ' [' + format(datum.lo, '.2f') + ', ' + format(datum.hi, '.2f') + ']'", "as": "ci"}],
 "encoding": {"y": {"field": "study", "type": "nominal", "scale": {"type": "band", "domain": ["grp","hdr","Abbot et al 2001 depressio","Bay 2008","Boelens et al 2009","Chung 2005","Kim&Song 2004","Kim 1988","Koszycki 2010 depression","Rosmarin 2010","Targ et al 2002depression","Yoon&Park 2002","gap","Total (95% CI)","het","test"], "paddingInner": 0, "paddingOuter": 0, "round": false}, "axis": null}},
 "layer": [
  {"transform": [{"filter": "datum.kind == 's'"}], "mark": {"type": "text", "align": "right", "dx": -8.5, "fontSize": 9.4, "color": "#1a1a1a"}, "encoding": {"x": {"value": "width"}, "text": {"field": "ci", "type": "nominal"}}},
  {"transform": [{"filter": "datum.kind == 't'"}], "mark": {"type": "text", "align": "right", "dx": -8.5, "fontSize": 9, "fontWeight": "bold", "color": "#1a1a1a"}, "encoding": {"x": {"value": "width"}, "text": {"field": "ci", "type": "nominal"}}},
  {"data": {"values": [{}]}, "mark": {"type": "text", "align": "right", "dx": -11, "fontSize": 9, "fontWeight": "bold", "color": "#1a1a1a"}, "encoding": {"x": {"value": "width"}, "y": {"datum": "grp"}, "text": {"value": "Std. Mean Difference"}}},
  {"data": {"values": [{}]}, "mark": {"type": "text", "align": "right", "dx": -8.5, "fontSize": 9, "fontWeight": "bold", "color": "#1a1a1a"}, "encoding": {"x": {"value": "width"}, "y": {"datum": "hdr"}, "text": {"value": "IV, Random, 95% CI"}}},
  {"data": {"values": [{}]}, "mark": {"type": "rule", "color": "#8a8a8a"}, "encoding": {"y": {"datum": "Abbot et al 2001 depressio", "bandPosition": 0}}}
 ]},
{"width": 160, "height": {"step": 14.3}, "data": {"name": "tab"},
 "encoding": {"y": {"field": "study", "type": "nominal", "scale": {"type": "band", "domain": ["grp","hdr","Abbot et al 2001 depressio","Bay 2008","Boelens et al 2009","Chung 2005","Kim&Song 2004","Kim 1988","Koszycki 2010 depression","Rosmarin 2010","Targ et al 2002depression","Yoon&Park 2002","gap","Total (95% CI)"], "paddingInner": 0, "paddingOuter": 0.183, "align": 0, "round": false}, "axis": null}},
 "layer": [
  {"data": {"values": [{}]}, "mark": {"type": "text", "align": "center", "fontSize": 9, "fontWeight": "bold", "color": "#1a1a1a"}, "encoding": {"y": {"datum": "grp"}, "text": {"value": "Std. Mean Difference"}}},
  {"data": {"values": [{}]}, "mark": {"type": "text", "align": "center", "fontSize": 9, "fontWeight": "bold", "color": "#1a1a1a"}, "encoding": {"y": {"datum": "hdr"}, "text": {"value": "IV, Random, 95% CI"}}},
  {"data": {"values": [{}]}, "mark": {"type": "rule", "color": "#8a8a8a"}, "encoding": {"y": {"datum": "Abbot et al 2001 depressio", "bandPosition": 0}}},
  {"data": {"values": [{}]}, "mark": {"type": "rule", "color": "#666"}, "encoding": {"x": {"datum": 0, "type": "quantitative", "scale": {"domain": [-3.59, 3.16], "nice": false, "zero": false, "clamp": true}, "axis": {"values": [-2, -1, 0, 1, 2], "grid": false, "labelFlush": false, "tickSize": 5, "domainColor": "#555", "tickColor": "#555", "labelColor": "#222", "labelFontSize": 9.5, "labelPadding": 2, "title": "Favours experimental\u00a0\u00a0 Favours control", "titleFontSize": 10, "titleFontWeight": "normal", "titleColor": "#222", "titlePadding": 3}}, "y": {"datum": "Abbot et al 2001 depressio", "bandPosition": 0}, "y2": {"value": "height"}}},
  {"transform": [{"filter": "datum.kind == 's'"}], "mark": {"type": "rule", "color": "#333", "strokeWidth": 1.2}, "encoding": {"x": {"field": "lo", "type": "quantitative", "scale": {"domain": [-3.59, 3.16], "nice": false, "zero": false, "clamp": true}}, "x2": {"field": "hi"}}},
  {"transform": [{"filter": "datum.kind == 's'"}], "mark": {"type": "point", "shape": "square", "filled": true, "color": "#1a1a1a", "opacity": 1}, "encoding": {"x": {"field": "smd", "type": "quantitative", "scale": {"domain": [-3.59, 3.16], "nice": false, "zero": false, "clamp": true}}, "size": {"field": "w", "type": "quantitative", "scale": {"domain": [9, 10.6], "range": [8, 18]}, "legend": null}}},
  {"transform": [{"filter": "datum.kind == 's' && datum.lo < -3.59"}], "mark": {"type": "point", "shape": "triangle-left", "filled": true, "size": 24, "color": "#1a1a1a", "opacity": 1}, "encoding": {"x": {"field": "lo", "type": "quantitative", "scale": {"domain": [-3.59, 3.16], "nice": false, "zero": false, "clamp": true}}}},
  {"transform": [{"filter": "datum.kind == 't'"}], "mark": {"type": "point", "shape": "M-1,0L0,-0.41L1,0L0,0.41Z", "filled": true, "size": 940, "color": "#111", "opacity": 1}, "encoding": {"x": {"field": "smd", "type": "quantitative", "scale": {"domain": [-3.59, 3.16], "nice": false, "zero": false, "clamp": true}}}}
 ]},
{"width": 31, "height": 212, "data": {"values": []}, "mark": "point"},
{"width": 317, "height": 213, "data": {"name": "funB"},
 "layer": [
  {"data": {"values": [{}]}, "mark": {"type": "rule", "strokeDash": [3, 2], "color": "#777"}, "encoding": {"x": {"datum": -0.76, "type": "quantitative", "scale": {"domain": [-5, 5], "nice": false, "zero": false}}}},
  {"mark": {"type": "point", "shape": "square", "filled": false, "stroke": "#333", "strokeWidth": 1, "size": 22, "opacity": 1},
   "encoding": {
    "x": {"field": "smd", "type": "quantitative", "scale": {"domain": [-5, 5], "nice": false, "zero": false}, "axis": {"values": [-4, -2, 0, 2, 4], "grid": false, "labelFlush": false, "tickSize": 4, "domainColor": "#666", "tickColor": "#666", "labelColor": "#444", "labelFontSize": 8, "labelPadding": 2, "title": "SMD", "titleX": 301, "titleY": -2, "titleAlign": "left", "titleBaseline": "bottom", "titleFontSize": 8, "titleFontWeight": "normal", "titleColor": "#666"}},
    "y": {"field": "se", "type": "quantitative", "scale": {"domain": [0, 0.5], "reverse": true, "nice": false, "zero": false}, "axis": {"values": [0, 0.1, 0.2, 0.3, 0.4, 0.5], "format": "~g", "grid": false, "labelFlush": false, "tickSize": 4, "domainColor": "#666", "tickColor": "#666", "labelColor": "#444", "labelFontSize": 8, "labelPadding": 2, "title": "SE(SMD)", "titleAngle": 0, "titleX": 3, "titleY": -5, "titleAlign": "left", "titleBaseline": "middle", "titleFontSize": 8, "titleFontWeight": "normal", "titleColor": "#666"}}
   }}
 ]}
]
}
]
}
